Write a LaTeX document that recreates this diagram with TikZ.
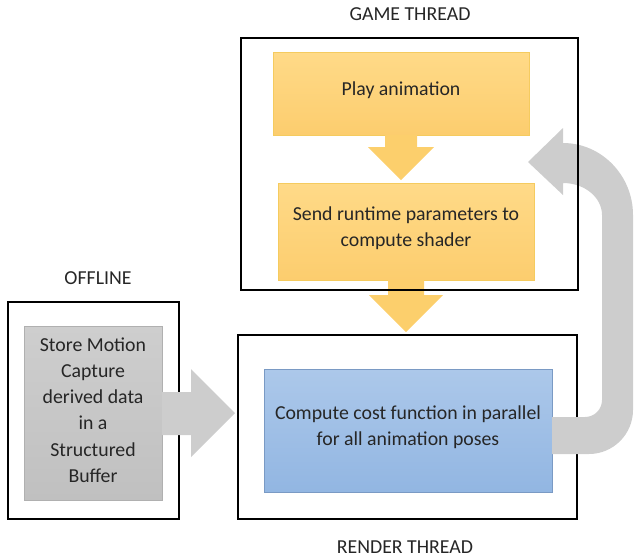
\documentclass[tikz,border=0pt]{standalone}
\usepackage{fontspec}
\setmainfont{Carlito}
\definecolor{txt}{RGB}{38,38,38}
\definecolor{ytop}{RGB}{255,218,136}
\definecolor{ybot}{RGB}{252,205,110}
\definecolor{yline}{RGB}{245,203,95}
\definecolor{btop}{RGB}{172,200,234}
\definecolor{bbot}{RGB}{146,182,226}
\definecolor{bline}{RGB}{122,154,196}
\definecolor{gtop}{RGB}{206,206,206}
\definecolor{gbot}{RGB}{192,192,192}
\definecolor{gline}{RGB}{176,176,176}
\definecolor{garrow}{RGB}{205,205,205}
\definecolor{yarrow}{RGB}{252,207,108}
\begin{document}
\begin{tikzpicture}[x=1pt,y=-1pt,
  every node/.style={font=\fontsize{19.8}{26.3}\selectfont, text=txt, align=center, inner sep=0pt},
  threadbox/.style={draw=black, line width=1.5pt, fill=none, rectangle},
  yellowbox/.style={rectangle, draw=yline, line width=0.8pt, top color=ytop, bottom color=ybot},
  bluebox/.style={rectangle, draw=bline, line width=0.8pt, top color=btop, bottom color=bbot},
  greybox/.style={rectangle, draw=gline, line width=0.8pt, top color=gtop, bottom color=gbot},
  boxtext/.style={yshift=3pt},
  lbl/.style={text=black!85},
  yarr/.style={fill=yarrow, draw=none},
  garr/.style={fill=garrow, draw=none}
]
\useasboundingbox (0,0) rectangle (634,558);

% thread containers (render and offline under arrows)
\node[threadbox, minimum width=339pt, minimum height=184pt] (render) at (407.5,427) {};
\node[threadbox, minimum width=171pt, minimum height=217pt] (offline) at (93.5,410.5) {};

% content boxes
\node[yellowbox, minimum width=256pt, minimum height=83pt] (play) at (401,93.5) {};
\node[yellowbox, minimum width=256pt, minimum height=97pt] (send) at (406,231.5) {};
\node[bluebox, minimum width=288pt, minimum height=123pt] (compute) at (408,430.5) {};
\node[greybox, minimum width=138pt, minimum height=174pt] (store) at (93,413) {};

\node[boxtext] (playtxt) at (play.center) {Play animation};
\node[boxtext] (sendtxt) at (send.center) {Send runtime parameters to\\compute shader};
\node[boxtext] (computetxt) at (compute.center) {Compute cost function in parallel\\for all animation poses};
\node[boxtext] (storetxt) at (store.center) {Store Motion\\Capture\\derived data\\in a\\Structured\\Buffer};

% labels
\node[lbl] (gamelbl) at (410,14) {GAME THREAD};
\node[lbl] (offlbl) at (98,278) {OFFLINE};
\node[lbl] (renderlbl) at (405,547) {RENDER THREAD};

% yellow block arrows
\draw[yarr] (385,135) -- (417,135) -- (417,147) -- (434,147) -- (401,180) -- (368,147) -- (385,147) -- cycle;
\draw[yarr] (388,280) -- (424,280) -- (424,295) -- (443,295) -- (406,332) -- (369,295) -- (388,295) -- cycle;

% grey straight block arrow
\draw[garr] (162,392) -- (191,392) -- (191,369) -- (235,413) -- (191,457) -- (191,435) -- (162,435) -- cycle;

% curved grey block arrow (U-turn)
\draw[garr] (552,417) -- (585,417)
  .. controls (594.4,417) and (602,409.4) .. (602,400)
  -- (602,215)
  .. controls (602,197.4) and (584.5,183) .. (563,183)
  -- (563,195) -- (528,162) -- (563,128) -- (563,143)
  .. controls (601.5,143) and (633,175.4) .. (633,215)
  -- (633,410)
  .. controls (633,434.2) and (613.2,454) .. (589,454)
  -- (552,454) -- cycle;

% game thread container on top
\node[threadbox, minimum width=337pt, minimum height=252pt] (game) at (409.5,164) {};
\end{tikzpicture}
\end{document}
